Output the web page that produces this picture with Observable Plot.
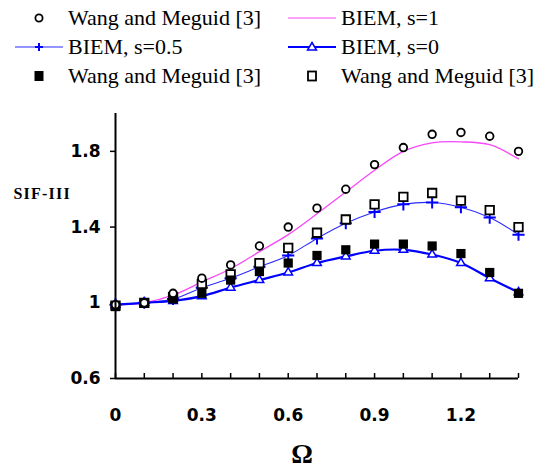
<!DOCTYPE html>
<html><head><meta charset="utf-8">
<script src="https://cdn.jsdelivr.net/npm/d3@7"></script>
<script src="https://cdn.jsdelivr.net/npm/@observablehq/plot@0.6"></script>
<style>
body{margin:0;background:#fff;}
#wrap{width:540px;height:474px;position:relative;overflow:hidden;background:#fff;}
#legend{position:relative;width:540px;height:95px;font-family:"Liberation Serif","Times New Roman",serif;font-size:22px;color:#000;}
.item{position:absolute;display:flex;align-items:center;height:30px;white-space:nowrap;}
.item svg{display:block;margin-right:2px;}
#chart svg{display:block;}
</style></head>
<body><div id="wrap"><div id="legend"></div><div id="chart"></div></div>
<script>
// Data
const omega   = [0, 0.1, 0.2, 0.3, 0.4, 0.5, 0.6, 0.7, 0.8, 0.9, 1.0, 1.1, 1.2, 1.3, 1.4];
const wangS1  = [0.99, 1.00, 1.05, 1.13, 1.20, 1.30, 1.40, 1.50, 1.60, 1.73, 1.82, 1.89, 1.90, 1.88, 1.80];
const wangS05 = [0.985, 1.00, 1.03, 1.10, 1.15, 1.21, 1.29, 1.37, 1.44, 1.52, 1.56, 1.58, 1.54, 1.49, 1.40];
const wangS0  = [0.98, 1.00, 1.02, 1.05, 1.12, 1.165, 1.21, 1.25, 1.28, 1.31, 1.31, 1.30, 1.26, 1.16, 1.05];
const biem1   = [0.99, 1.00, 1.04, 1.11, 1.18, 1.27, 1.36, 1.47, 1.585, 1.70, 1.80, 1.845, 1.85, 1.835, 1.76];
const biem05  = [0.99, 1.00, 1.02, 1.08, 1.13, 1.19, 1.25, 1.34, 1.42, 1.48, 1.52, 1.53, 1.505, 1.45, 1.36];
const biem0   = [0.99, 1.00, 1.01, 1.035, 1.08, 1.12, 1.16, 1.21, 1.245, 1.275, 1.28, 1.255, 1.21, 1.13, 1.055];

const xMinorTicks = [0, 0.1, 0.2, 0.3, 0.4, 0.5, 0.6, 0.7, 0.8, 0.9, 1.0, 1.1, 1.2, 1.3, 1.4];
const xTickLabels = [0, 0.3, 0.6, 0.9, 1.2];
const yTicks = [0.6, 1, 1.4, 1.8];
const legendLabels = ["Wang and Meguid [3]", "BIEM, s=1", "BIEM, s=0.5", "BIEM, s=0", "Wang and Meguid [3]", "Wang and Meguid [3]"];

const rows = omega.map((o, i) => ({o, w1: wangS1[i], w05: wangS05[i], w0: wangS0[i], b1: biem1[i], b05: biem05[i], b0: biem0[i]}));

const MAG = "#f848f8", BLUE = "#0000ff", BLUE2 = "#2b2bff";

// Legend
const swatches = [
  `<svg width="54" height="30"><circle cx="27" cy="15" r="3.6" fill="#fff" stroke="#000" stroke-width="1.8"/></svg>`,
  `<svg width="54" height="30"><line x1="3" x2="51" y1="15" y2="15" stroke="${MAG}" stroke-width="1.2"/></svg>`,
  `<svg width="54" height="30"><line x1="3" x2="51" y1="15" y2="15" stroke="${BLUE2}" stroke-width="1.2"/><path d="M23,15H31M27,11V19" stroke="${BLUE}" stroke-width="2"/></svg>`,
  `<svg width="54" height="30"><line x1="3" x2="51" y1="15" y2="15" stroke="${BLUE}" stroke-width="2.2"/><path d="M27,10.5L31.5,18H22.5Z" fill="#fff" stroke="${BLUE}" stroke-width="1.5"/></svg>`,
  `<svg width="54" height="30"><rect x="22.5" y="10" width="9" height="10" fill="#000"/></svg>`,
  `<svg width="54" height="30"><rect x="23" y="10.5" width="8" height="9" fill="#fff" stroke="#000" stroke-width="1.8"/></svg>`
];
const legPos = [[12,3],[285,3],[12,32],[285,32],[12,61],[285,61]];
const leg = document.getElementById("legend");
legendLabels.forEach((t, i) => {
  const d = document.createElement("div");
  d.className = "item";
  d.style.left = legPos[i][0] + "px";
  d.style.top = legPos[i][1] + "px";
  d.innerHTML = swatches[i] + `<span>${t}</span>`;
  leg.appendChild(d);
});

const chart = Plot.plot({
  width: 540, height: 379,
  marginLeft: 115, marginRight: 22, marginTop: 18, marginBottom: 96,
  style: {fontFamily: "DejaVu Sans", fontSize: "17px", fontWeight: "bold", color: "#000", background: "#fff"},
  x: {domain: [0, 1.4]},
  y: {domain: [0.6, 2.0]},
  marks: [
    Plot.axisY({ticks: yTicks, tickSize: 5, tickPadding: 10, label: null, tickFormat: d => String(d), strokeWidth: 1.5}),
    Plot.axisX({ticks: xMinorTicks, tickSize: -5, label: null, tickFormat: () => "", strokeWidth: 1.5}),
    Plot.axisX({ticks: xTickLabels, tickSize: 0, tickPadding: 30, label: null, tickFormat: d => String(d)}),
    Plot.line(rows, {x: "o", y: "b1", stroke: MAG, strokeWidth: 1.3, curve: "catmull-rom"}),
    Plot.line(rows, {x: "o", y: "b05", stroke: BLUE2, strokeWidth: 1.1, curve: "catmull-rom"}),
    Plot.line(rows, {x: "o", y: "b0", stroke: BLUE, strokeWidth: 2.2, curve: "catmull-rom"}),
    Plot.dot(rows, {x: "o", y: "b05", symbol: "plus", r: 4, stroke: BLUE, strokeWidth: 2}),
    Plot.dot(rows, {x: "o", y: "b0", symbol: "triangle", r: 3.2, stroke: BLUE, fill: "#fff", strokeWidth: 1.5}),
    Plot.dot(rows, {x: "o", y: "w05", symbol: "square", r: 4.8, stroke: "#000", fill: "#fff", strokeWidth: 1.8}),
    Plot.dot(rows, {x: "o", y: "w0", symbol: "square", r: 5.2, fill: "#000"}),
    Plot.dot(rows, {x: "o", y: "w1", symbol: "circle", r: 3.8, stroke: "#000", fill: "#fff", strokeWidth: 1.8}),
    Plot.ruleX([0], {y1: 0.6, y2: 2.0, strokeWidth: 2}),
    Plot.ruleY([0.6], {x1: 0, x2: 1.4, strokeWidth: 2}),
    Plot.text(["SIF-III"], {text: d => d, frameAnchor: "left", dx: -102, dy: -52, textAnchor: "start", fontFamily: "Liberation Serif", fontSize: 16, fontWeight: "bold"}),
    Plot.text(["Ω"], {text: d => d, frameAnchor: "bottom", dx: -15, dy: 84, fontFamily: "Liberation Serif", fontSize: 27, fontWeight: "bold"})
  ]
});
// slight widening of the y-axis title, as in the reference
d3.select(chart).selectAll("text").filter(function() { return this.textContent === "SIF-III"; }).attr("letter-spacing", "1.2px");
document.getElementById("chart").appendChild(chart);
</script>
</body></html>
